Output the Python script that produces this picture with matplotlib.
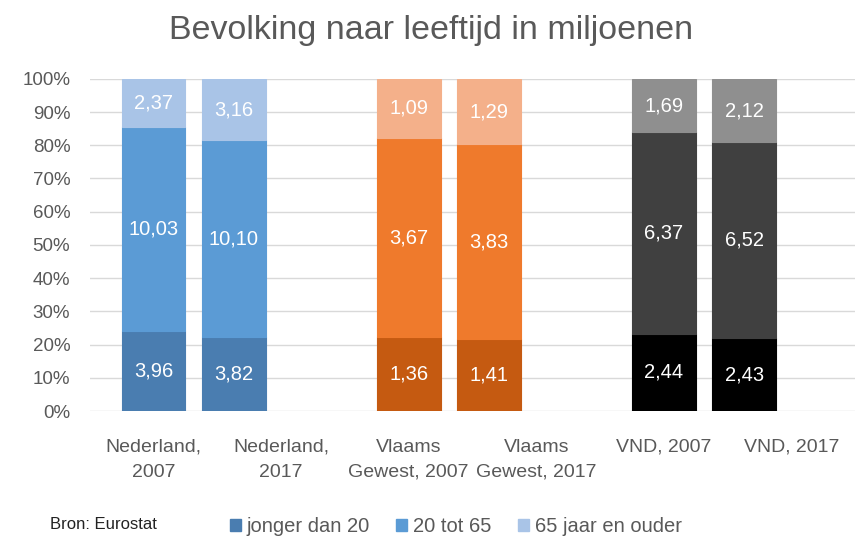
import numpy as np
import matplotlib
matplotlib.use("Agg")
import matplotlib.pyplot as plt

# --- data (miljoenen) ---
categories = ["Nederland,\n2007", "Nederland,\n2017", "Vlaams\nGewest, 2007",
              "Vlaams\nGewest, 2017", "VND, 2007", "VND, 2017"]
series_names = ["jonger dan 20", "20 tot 65", "65 jaar en ouder"]
jonger_20 = [3.96, 3.82, 1.36, 1.41, 2.44, 2.43]
tot_65 = [10.03, 10.10, 3.67, 3.83, 6.37, 6.52]
ouder_65 = [2.37, 3.16, 1.09, 1.29, 1.69, 2.12]

# colours per bar (region) and per segment
seg_colors = [
    ["#4a7db0", "#5b9bd5", "#a9c4e7"],
    ["#4a7db0", "#5b9bd5", "#a9c4e7"],
    ["#c55a11", "#ef7a2c", "#f4b08a"],
    ["#c55a11", "#ef7a2c", "#f4b08a"],
    ["#000000", "#404040", "#8f8f8f"],
    ["#000000", "#404040", "#8f8f8f"],
]

plt.rcParams["font.family"] = ["Liberation Sans", "DejaVu Sans"]

values = np.array([jonger_20, tot_65, ouder_65])
totals = values.sum(axis=0)
shares = values / totals * 100

x = np.arange(len(categories))
# second bar of each pair sits shifted to the left inside its category
offsets = np.array([0, -0.37, 0, -0.37, 0, -0.37])
bar_x = x + offsets
width = 0.5

fig = plt.figure(figsize=(8.63, 5.36), dpi=100)
ax = fig.add_axes([0.104, 0.233, 0.887, 0.62])

bottom = np.zeros(len(categories))
for s in range(3):
    cols = [seg_colors[i][s] for i in range(len(categories))]
    ax.bar(bar_x, shares[s], width, bottom=bottom, color=cols,
           edgecolor=cols, linewidth=0.8, zorder=3, label=series_names[s])
    for i in range(len(categories)):
        ax.text(bar_x[i], bottom[i] + shares[s][i] / 2,
                f"{values[s][i]:.2f}".replace(".", ","),
                ha="center", va="center", color="white", fontsize=14.5, zorder=4)
    bottom += shares[s]

ax.set_xlim(-0.5, len(categories) - 0.5)
ax.set_ylim(0, 100)
ax.set_yticks(np.arange(0, 101, 10))
ax.set_yticklabels([f"{v}%" for v in range(0, 101, 10)])
ax.set_xticks(x)
ax.set_xticklabels(categories, linespacing=1.6)
ax.tick_params(axis="both", length=0, colors="#595959", labelsize=14)
ax.tick_params(axis="y", pad=14, labelsize=13.5)
ax.tick_params(axis="x", pad=20)
ax.grid(axis="y", color="#d9d9d9", linewidth=1, zorder=0)
for sp in ax.spines.values():
    sp.set_visible(False)

fig.suptitle("Bevolking naar leeftijd in miljoenen", x=0.5, y=0.972,
             fontsize=24.5, color="#595959")

fig.text(0.058, 0.008, "Bron: Eurostat", fontsize=12, color="#222222", va="bottom")

leg_handles = [plt.Rectangle((0, 0), 1, 1, color=c) for c in seg_colors[0]]
fig.legend(leg_handles, series_names, loc="lower left", bbox_to_anchor=(0.245, -0.034),
           ncol=3, frameon=False, fontsize=14.5, handlelength=0.55, handleheight=0.55,
           handletextpad=0.3, columnspacing=1.3, labelcolor="#595959")

fig.savefig("out.png", dpi=100)
